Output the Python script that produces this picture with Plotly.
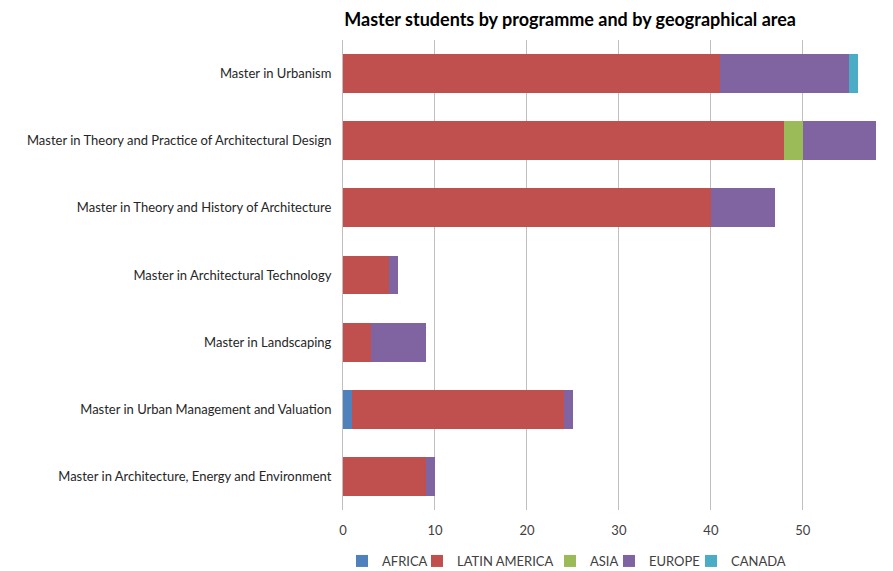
import plotly.graph_objects as go

categories = [
    "Master in Urbanism",
    "Master in Theory and Practice of Architectural Design",
    "Master in Theory and History of Architecture",
    "Master in Architectural Technology",
    "Master in Landscaping",
    "Master in Urban Management and Valuation",
    "Master in Architecture, Energy and Environment",
]
africa = [0, 0, 0, 0, 0, 1, 0]
latin_america = [41, 48, 40, 5, 3, 23, 9]
asia = [0, 2, 0, 0, 0, 0, 0]
europe = [14, 8, 7, 1, 6, 1, 1]
canada = [1, 0, 0, 0, 0, 0, 0]

series = [
    ("AFRICA", africa, "#4F81BD"),
    ("LATIN AMERICA", latin_america, "#C0504D"),
    ("ASIA", asia, "#9BBB59"),
    ("EUROPE", europe, "#8064A2"),
    ("CANADA", canada, "#4BACC6"),
]
# page offset of the figure (default body margin)
OFF = 8
# screen x where each legend entry's text starts
legend_text_px = [382, 457, 590, 649, 731]

W, H = 893 - OFF, 571 - OFF
font_family = "Lato, 'Open Sans', sans-serif"

fig = go.Figure()
legend_layout = {}
for i, (name, vals, color) in enumerate(series):
    lname = "legend" if i == 0 else f"legend{i+1}"
    fig.add_trace(go.Bar(
        y=categories, x=vals, name=name, orientation="h",
        marker=dict(color=color, line=dict(width=0)),
        legend=lname, showlegend=True,
    ))
    legend_layout[lname] = dict(
        xref="container", yref="container",
        x=(legend_text_px[i] - 40 - OFF) / W, xanchor="left",
        y=10 / H, yanchor="middle",
        orientation="h", itemwidth=30, visible=True,
        font=dict(size=13, color="#404040", family=font_family),
        bgcolor="rgba(0,0,0,0)",
    )

fig.update_layout(
    barmode="stack",
    bargap=0.42,
    showlegend=True,
    width=W, height=H,
    margin=dict(l=343 - OFF, r=0, t=40 - OFF, b=H - (510 - OFF), autoexpand=False),
    paper_bgcolor="white", plot_bgcolor="white",
    font=dict(family=font_family, size=13, color="#404040"),
    title=dict(
        text="<b>Master students by programme and by geographical area</b>",
        x=0.413, xref="paper", xanchor="center",
        y=1 - (20 - OFF) / H, yref="container", yanchor="middle",
        font=dict(size=18, color="#000000", family=font_family),
    ),
    xaxis=dict(
        range=[0, 59.8], dtick=10, tick0=0, automargin=False,
        showgrid=True, gridcolor="#BFBFBF", gridwidth=1,
        zeroline=False, showline=False, ticks="", ticklabelstandoff=11,
        tickfont=dict(size=13, color="#404040"),
    ),
    yaxis=dict(
        autorange="reversed", automargin=False,
        showline=True, linecolor="#BFBFBF", linewidth=1,
        ticks="", ticklabelstandoff=8, showgrid=False,
        tickfont=dict(size=13, color="#262626"),
    ),
    **legend_layout,
)

fig.write_html("out.html")
